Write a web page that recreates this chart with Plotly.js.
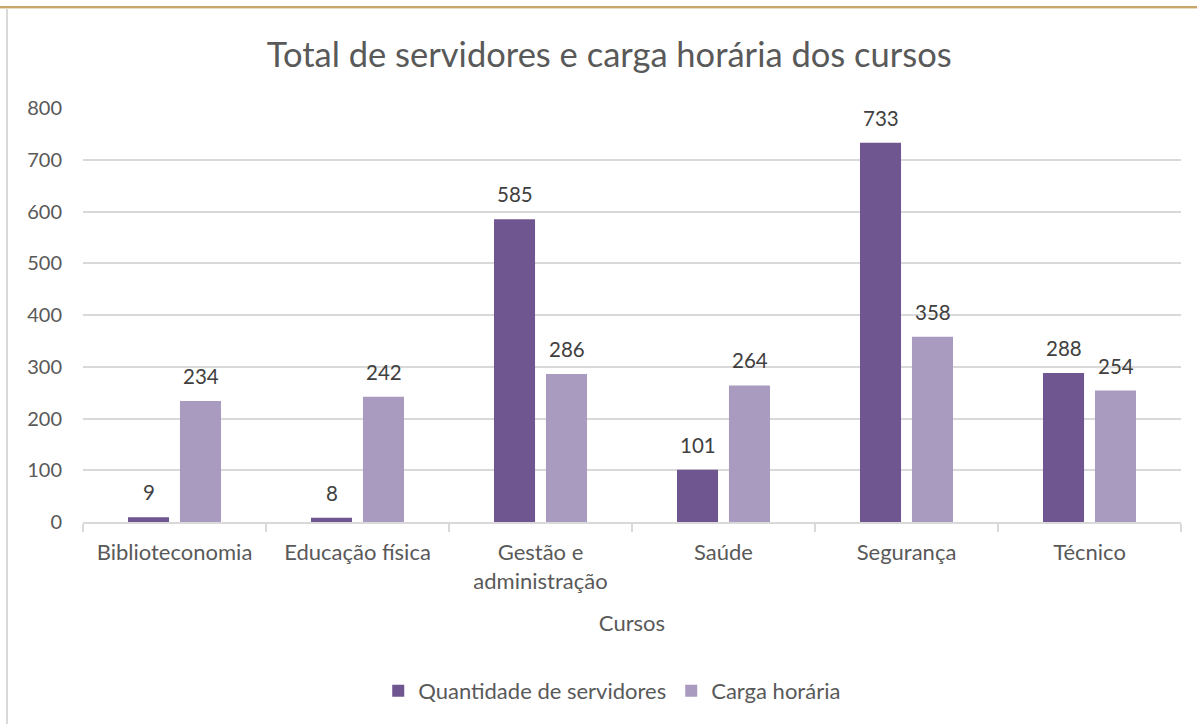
<!DOCTYPE html>
<html>
<head>
<meta charset="utf-8">
<script src="https://cdn.plot.ly/plotly-3.0.1.min.js"></script>
<style>
html,body{margin:0;padding:0;background:#fff;}
#wrap{position:relative;width:1197px;height:724px;overflow:hidden;}
#chart{position:absolute;left:0;top:0;width:1197px;height:724px;}
#topline{position:absolute;left:0;top:6px;width:1197px;height:2px;background:#C9A56A;}
#topline2{position:absolute;left:0;top:8px;width:1197px;height:1px;background:#E9DCC6;}
#leftline{position:absolute;left:6px;top:9px;width:2px;height:715px;background:#D9D9D9;}
</style>
</head>
<body>
<div id="wrap">
<div id="chart"></div>
<div id="topline"></div>
<div id="topline2"></div>
<div id="leftline"></div>
</div>
<script>
const categories = ["Biblioteconomia", "Educação física", "Gestão e<br>administração", "Saúde", "Segurança", "Técnico"];
const servidores = [9, 8, 585, 101, 733, 288];
const cargaHoraria = [234, 242, 286, 264, 358, 254];
const seriesNames = ["Quantidade de servidores", "Carga horária"];
const tickVals = [0, 100, 200, 300, 400, 500, 600, 700, 800];

const FONT = "Lato, 'Open Sans', sans-serif";
const darkColor = "#6F5691";
const lightColor = "#A99BC0";

const traces = [
  {type: "bar", name: seriesNames[0], x: categories, y: servidores, marker: {color: darkColor}, hoverinfo: "y"},
  {type: "bar", name: seriesNames[1], x: categories, y: cargaHoraria, marker: {color: lightColor}, hoverinfo: "y"}
];

const annotations = [];
[servidores, cargaHoraria].forEach((arr, si) => {
  arr.forEach((v, i) => {
    annotations.push({
      x: categories[i], y: v, xref: "x", yref: "y",
      text: String(v), showarrow: false,
      xshift: si === 0 ? -26 : 26, yshift: 25,
      font: {family: FONT, size: 20.5, color: "#404040"}
    });
  });
});

const layout = {
  width: 1197, height: 724,
  margin: {l: 83, r: 16, t: 108, b: 202},
  paper_bgcolor: "rgba(0,0,0,0)", plot_bgcolor: "#fff",
  barmode: "group", bargap: 0.432, bargroupgap: 0.21,
  title: {text: "Total de servidores e carga horária dos cursos", font: {family: FONT, size: 34.5, color: "#595959"},
          x: 0.509, xanchor: "center", y: 0.924, yanchor: "middle"},
  xaxis: {
    title: {text: "Cursos", font: {family: FONT, size: 22, color: "#595959"}, standoff: 23},
    tickfont: {family: FONT, size: 22, color: "#595959"},
    showline: true, linecolor: "#D9D9D9", linewidth: 2,
    ticks: "outside", tickson: "boundaries", ticklen: 8, tickcolor: "#D9D9D9", tickwidth: 2,
    ticklabelstandoff: 10,
    showgrid: false, fixedrange: true
  },
  yaxis: {
    range: [0, 800], tickvals: tickVals, ticktext: tickVals.map(String),
    tickfont: {family: FONT, size: 20, color: "#595959"},
    showgrid: true, gridcolor: "#D9D9D9", gridwidth: 2,
    zeroline: false, showline: false, ticks: "", ticklabelstandoff: 20, fixedrange: true
  },
  legend: {orientation: "h", x: 0.482, xanchor: "center", y: -0.408, yanchor: "middle",
           font: {family: FONT, size: 22, color: "#595959"}, itemwidth: 30, traceorder: "normal"},
  annotations: annotations,
  showlegend: true
};

Plotly.newPlot("chart", traces, layout, {displayModeBar: false, staticPlot: true});
</script>
</body>
</html>
